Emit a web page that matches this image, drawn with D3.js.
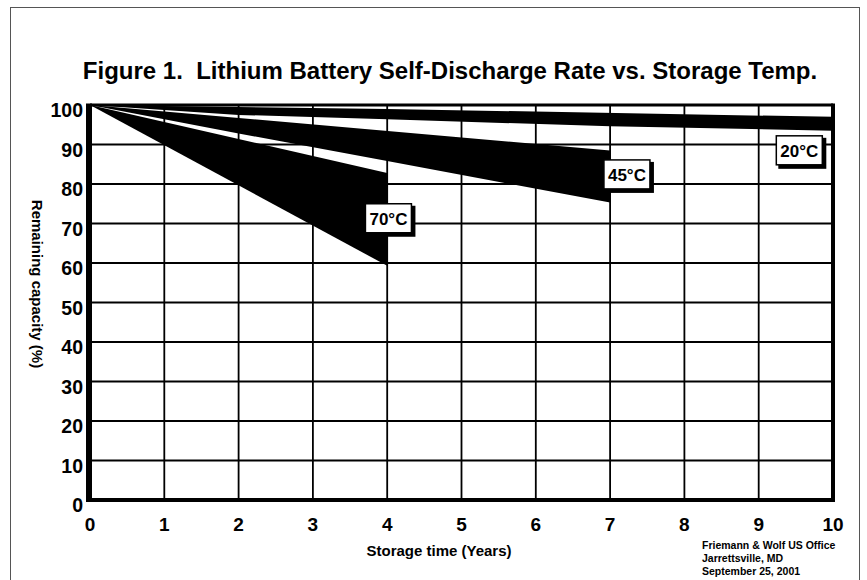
<!DOCTYPE html>
<html>
<head>
<meta charset="utf-8">
<script src="https://cdn.jsdelivr.net/npm/d3@7"></script>
<style>
  html, body { margin: 0; padding: 0; background: #fff; }
  svg { display: block; }
  text { font-family: "Liberation Sans", Arial, Helvetica, sans-serif; font-weight: bold; fill: #000; }
</style>
</head>
<body>
<svg id="chart" width="867" height="580"></svg>
<script>
// ---- data ----
const title = "Figure 1.  Lithium Battery Self-Discharge Rate vs. Storage Temp.";
const xTicks = [0, 1, 2, 3, 4, 5, 6, 7, 8, 9, 10];
const yTicks = [0, 10, 20, 30, 40, 50, 60, 70, 80, 90, 100];
const xLabel = "Storage time (Years)";
const yLabel = "Remaining capacity (%)";
const credits = ["Friemann & Wolf US Office", "Jarrettsville, MD", "September 25, 2001"];

// band edges: [years, remaining capacity %]
const band20Upper = [[0, 100], [4, 99], [10, 97]];
const band20Lower = [[0, 100], [2, 97.5], [4, 96.4], [7, 94.6], [10, 93.5]];
const band45Upper = [[0, 100], [7, 88.5]];
const band45Lower = [[0, 100], [2, 92.8], [4, 85.8], [7, 75.3]];
const band70Upper = [[0, 100], [4, 82.8]];
const band70Lower = [[0, 100], [4, 59.3]];

const bandNames = ["20°C", "45°C", "70°C"];
// label anchor (years, %) for each band
const labelYears = [9.56, 7.24, 4.03];
const labelValues = [88.4, 82.3, 71.2];

// ---- drawing ----
const svg = d3.select("#chart");
const x = d3.scaleLinear().domain([0, 10]).range([90, 833]);
const y = d3.scaleLinear().domain([0, 100]).range([500, 105]);

// outer page frame
svg.append("rect")
  .attr("x", 10.5).attr("y", 7.5).attr("width", 849).attr("height", 600)
  .attr("fill", "none").attr("stroke", "#555").attr("stroke-width", 1);

// title
svg.append("text")
  .attr("x", 450).attr("y", 79)
  .attr("text-anchor", "middle")
  .attr("font-size", 24)
  .attr("xml:space", "preserve")
  .text(title);

// gridlines
const g = svg.append("g");
g.selectAll("line.h").data(yTicks.filter(d => d > 0 && d < 100)).join("line")
  .attr("x1", x(0)).attr("x2", x(10))
  .attr("y1", d => y(d)).attr("y2", d => y(d))
  .attr("stroke", "#000").attr("stroke-width", 1.8);
g.selectAll("line.v").data(xTicks.filter(d => d > 0 && d < 10)).join("line")
  .attr("x1", d => x(d)).attr("x2", d => x(d))
  .attr("y1", y(0)).attr("y2", y(100))
  .attr("stroke", "#000").attr("stroke-width", 1.8);

// bands
const line = d3.line().x(d => x(d[0])).y(d => y(d[1]));
const bands = [
  [band20Upper, band20Lower],
  [band45Upper, band45Lower],
  [band70Upper, band70Lower]
];
svg.append("g").selectAll("path").data(bands).join("path")
  .attr("d", d => line(d[0].concat(d[1].slice().reverse())) + "Z")
  .attr("fill", "#000");

// plot frame
svg.append("line").attr("x1", x(0)).attr("x2", x(10)).attr("y1", y(100)).attr("y2", y(100))
  .attr("stroke", "#000").attr("stroke-width", 3);
svg.append("line").attr("x1", x(10)).attr("x2", x(10)).attr("y1", y(100) - 1.5).attr("y2", y(0) + 2)
  .attr("stroke", "#000").attr("stroke-width", 4);
svg.append("line").attr("x1", x(0) - 3).attr("x2", x(10) + 2).attr("y1", y(0)).attr("y2", y(0))
  .attr("stroke", "#000").attr("stroke-width", 4);
svg.append("line").attr("x1", x(0) - 1).attr("x2", x(0) - 1).attr("y1", y(100) - 1.5).attr("y2", y(0) + 2)
  .attr("stroke", "#000").attr("stroke-width", 6);

// tick labels
svg.append("g").selectAll("text").data(yTicks).join("text")
  .attr("x", 83).attr("y", d => y(d) + 12)
  .attr("text-anchor", "end")
  .attr("font-size", 19.5)
  .text(d => d);
svg.append("g").selectAll("text").data(xTicks).join("text")
  .attr("x", d => x(d)).attr("y", 531)
  .attr("text-anchor", "middle")
  .attr("font-size", 19)
  .text(d => d);

// axis titles
svg.append("text")
  .attr("x", 439).attr("y", 556)
  .attr("text-anchor", "middle")
  .attr("font-size", 15)
  .text(xLabel);
svg.append("text")
  .attr("transform", "translate(32,284) rotate(90)")
  .attr("text-anchor", "middle")
  .attr("font-size", 15)
  .text(yLabel);

// band labels
const lab = svg.append("g").selectAll("g").data(bandNames).join("g")
  .attr("transform", (d, i) => `translate(${x(labelYears[i])},${y(labelValues[i])})`);
lab.append("rect")
  .attr("x", -22).attr("y", -13).attr("width", 48).attr("height", 31)
  .attr("fill", "#000");
lab.append("rect")
  .attr("x", -24).attr("y", -15).attr("width", 46).attr("height", 29)
  .attr("fill", "#fff").attr("stroke", "#000").attr("stroke-width", 1.5);
lab.append("text")
  .attr("x", -1).attr("y", 6)
  .attr("text-anchor", "middle")
  .attr("font-size", 17)
  .text(d => d);

// credits
svg.append("g").selectAll("text").data(credits).join("text")
  .attr("x", 702).attr("y", (d, i) => 549 + i * 13)
  .attr("font-size", 10.5)
  .text(d => d);
</script>
</body>
</html>
